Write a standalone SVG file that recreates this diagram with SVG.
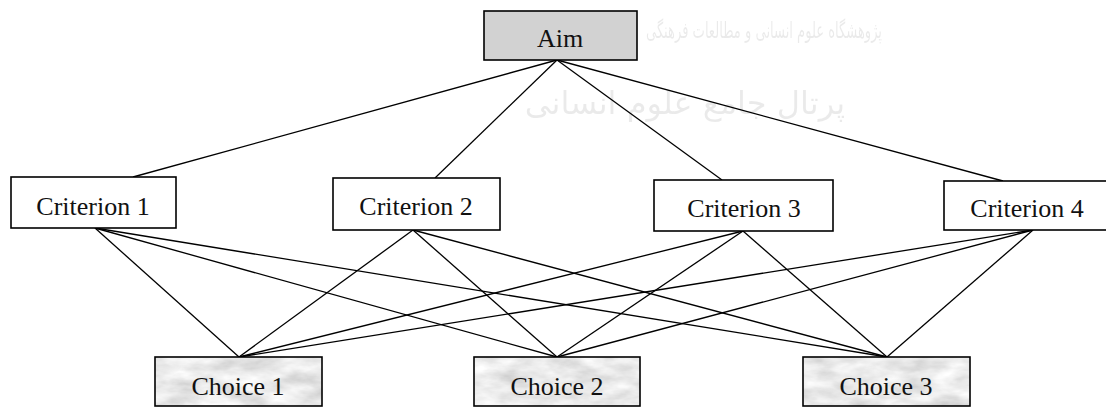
<svg xmlns="http://www.w3.org/2000/svg" width="1106" height="407" viewBox="0 0 1106 407">
<style>
.box{fill:#fff;stroke:#000;stroke-width:1.6}
.aim{fill:#d2d2d2;stroke:#000;stroke-width:1.6}
.frame{fill:none;stroke:#000;stroke-width:1.6}
.lbl{font-family:"Liberation Serif","Times New Roman",serif;font-size:26px;fill:#111;text-anchor:middle}
.wm{font-family:"DejaVu Sans",sans-serif;fill:#000;opacity:0.08}
#connectors line{stroke:#000;stroke-width:1.3}
</style>
<defs>
<filter id="marble" x="0" y="0" width="1" height="1" filterUnits="objectBoundingBox">
<feTurbulence type="fractalNoise" baseFrequency="0.03 0.07" numOctaves="4" seed="7" result="n"/>
<feColorMatrix in="n" type="matrix" values="0.55 0 0 0 0.55  0.55 0 0 0 0.55  0.55 0 0 0 0.55  0 0 0 0 1"/>
</filter>
</defs>
<rect width="1106" height="407" fill="#fff"/>
<g id="watermark">
<text class="wm" x="646" y="38" font-size="22" textLength="236" lengthAdjust="spacingAndGlyphs">پژوهشگاه علوم انسانی و مطالعات فرهنگی</text>
<text class="wm" x="685" y="114" font-size="32" text-anchor="middle">پرتال جامع علوم انسانی</text>
</g>
<g id="connectors">
<line x1="557" y1="60" x2="133" y2="177"/>
<line x1="557" y1="60" x2="435" y2="178"/>
<line x1="557" y1="60" x2="722" y2="180"/>
<line x1="557" y1="60" x2="1003" y2="181"/>
<line x1="95" y1="228" x2="239" y2="357"/>
<line x1="95" y1="228" x2="557" y2="357"/>
<line x1="95" y1="228" x2="887" y2="357"/>
<line x1="413" y1="230" x2="239" y2="357"/>
<line x1="413" y1="230" x2="557" y2="357"/>
<line x1="413" y1="230" x2="887" y2="357"/>
<line x1="743" y1="231" x2="239" y2="357"/>
<line x1="743" y1="231" x2="557" y2="357"/>
<line x1="743" y1="231" x2="887" y2="357"/>
<line x1="1033" y1="230" x2="239" y2="357"/>
<line x1="1033" y1="230" x2="557" y2="357"/>
<line x1="1033" y1="230" x2="887" y2="357"/>
</g>
<g id="aim">
<rect class="aim" x="484" y="11" width="153" height="49"/>
<text class="lbl" x="560" y="47" font-size="25">Aim</text>
</g>
<g id="criterion1">
<rect class="box" x="11" y="177" width="165" height="51"/>
<text class="lbl" x="93" y="215">Criterion 1</text>
</g>
<g id="criterion2">
<rect class="box" x="333" y="178" width="167" height="52"/>
<text class="lbl" x="416" y="215">Criterion 2</text>
</g>
<g id="criterion3">
<rect class="box" x="654" y="180" width="179" height="51"/>
<text class="lbl" x="744" y="217">Criterion 3</text>
</g>
<g id="criterion4">
<rect class="box" x="944" y="181" width="166" height="49"/>
<text class="lbl" x="1027" y="217">Criterion 4</text>
</g>
<g id="choice1">
<rect x="155" y="357" width="167" height="49" filter="url(#marble)"/>
<rect class="frame" x="155" y="357" width="167" height="49"/>
<text class="lbl" x="238" y="395">Choice 1</text>
</g>
<g id="choice2">
<rect x="474" y="357" width="166" height="49" filter="url(#marble)"/>
<rect class="frame" x="474" y="357" width="166" height="49"/>
<text class="lbl" x="557" y="395">Choice 2</text>
</g>
<g id="choice3">
<rect x="803" y="357" width="167" height="49" filter="url(#marble)"/>
<rect class="frame" x="803" y="357" width="167" height="49"/>
<text class="lbl" x="886" y="395">Choice 3</text>
</g>
</svg>
